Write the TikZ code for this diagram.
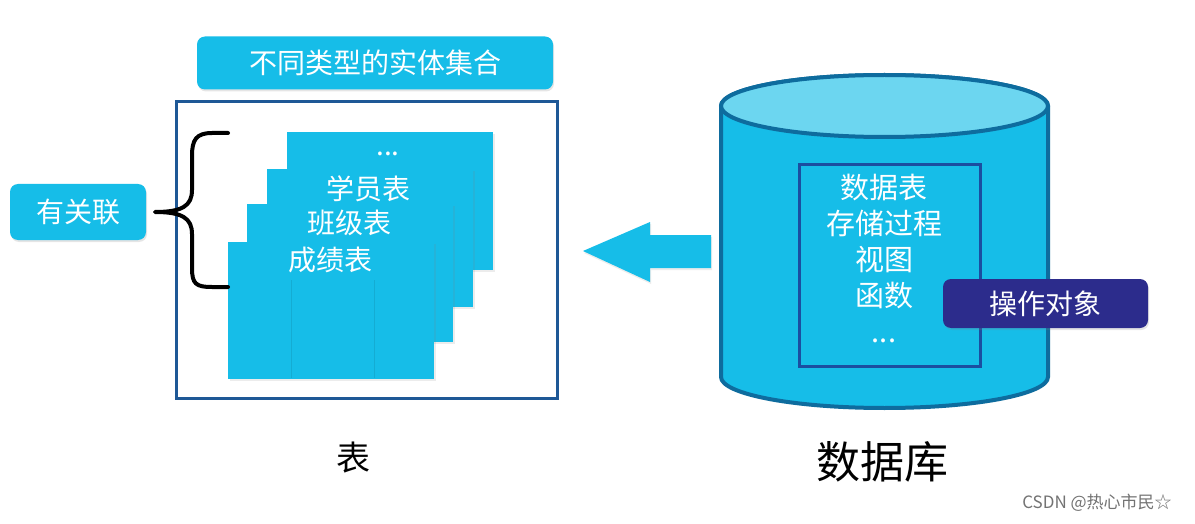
\documentclass[tikz,border=0pt]{standalone}
\usepackage{fontspec}
\setmainfont{Noto Sans CJK SC}
\usetikzlibrary{shadows}

\definecolor{boxcyan}{RGB}{22,189,232}
\definecolor{topcyan}{RGB}{108,214,240}
\definecolor{framebl}{RGB}{30,88,150}
\definecolor{cylline}{RGB}{14,108,158}
\definecolor{innerbl}{RGB}{27,78,160}
\definecolor{indigo}{RGB}{44,44,140}

\newcommand{\fsz}[1]{\fontsize{#1}{#1}\selectfont}

\begin{document}
\begin{tikzpicture}[x=1pt, y=-1pt,
    bubble/.style={rounded corners=8pt, fill=boxcyan, text=white, inner sep=0pt,
      font=\fsz{28}, drop shadow={opacity=0.2, shadow xshift=1pt, shadow yshift=-2pt}},
    sheet/.style={fill=boxcyan, minimum width=206pt, minimum height=137pt, inner sep=0pt,
      drop shadow={opacity=0.15, shadow xshift=2pt, shadow yshift=-2pt}},
    sheettext/.style={text=white, font=\fsz{28}, inner sep=0pt},
    caption/.style={text=black, inner sep=0pt}]
  \fill[white] (0,0) rectangle (1195,524);
  \useasboundingbox (0,0) rectangle (1195,524);

  \node[bubble, minimum width=356pt, minimum height=53pt] (kinds) at (375,63) {不同类型的实体集合};
  \node[draw=framebl, line width=3pt, minimum width=381pt, minimum height=296pt] (tables) at (366.5,250) {};

  \node[sheet] (sheet4) at (390,201) {};
  \node[sheet] (sheet3) at (370,238) {};
  \node[sheet] (sheet2) at (350,273) {};
  \node[sheet] (sheet1) at (331,310) {};
  \draw[boxcyan!75!black, opacity=0.35, line width=1pt] (291,280) -- (291,378) (374,280) -- (374,378);

  \node[sheettext] (more) at (388,154) {...};
  \node[sheettext] (students) at (368,189) {学员表};
  \node[sheettext] (classes) at (349,223) {班级表};
  \node[sheettext] (scores) at (330,260) {成绩表};

  \draw[line width=4pt, line cap=round, line join=round]
    (228,133) -- (212,133) .. controls (196,133) and (192,140) .. (192,156) -- (192,190)
    .. controls (192,206) and (182,212) .. (155,212)
    .. controls (182,212) and (192,218) .. (192,234) -- (192,268)
    .. controls (192,284) and (196,287) .. (212,287) -- (228,287);
  \node[bubble, minimum width=136pt, minimum height=56pt] (related) at (78,212) {有关联};

  \fill[boxcyan, drop shadow={opacity=0.15, shadow xshift=1pt, shadow yshift=-2pt}]
    (583,251) -- (650,222) -- (650,235) -- (711,235) -- (711,268) -- (650,268) -- (650,282) -- cycle;

  \filldraw[fill=boxcyan, draw=cylline, line width=4pt]
    (721,106) -- (721,377) arc[start angle=180, end angle=0, x radius=163.5, y radius=31]
    -- (1048,106) arc[start angle=360, end angle=180, x radius=163.5, y radius=31] -- cycle;
  \filldraw[fill=topcyan, draw=cylline, line width=4pt] (884.5,106) ellipse[x radius=163.5, y radius=31];

  \node[draw=innerbl, line width=3pt, fill=boxcyan, minimum width=181pt, minimum height=201pt] (objects) at (889.5,265.5) {};
  \node[text=white, font=\fontsize{29}{36}\selectfont, align=center, inner sep=0pt] (objlist) at (884,258)
    {数据表\\存储过程\\视图\\函数\\...};
  \node[bubble, fill=indigo, minimum width=205pt, minimum height=49pt] (opobj) at (1045.5,303.5) {操作对象};

  \node[caption, font=\fsz{34}] (tablab) at (353,458) {表};
  \node[caption, font=\fsz{44}] (dblab) at (882,462) {数据库};
  \node[text=black!55, font=\fsz{17}, inner sep=0pt] (mark) at (1097,503) {CSDN @热心市民☆};
\end{tikzpicture}
\end{document}
